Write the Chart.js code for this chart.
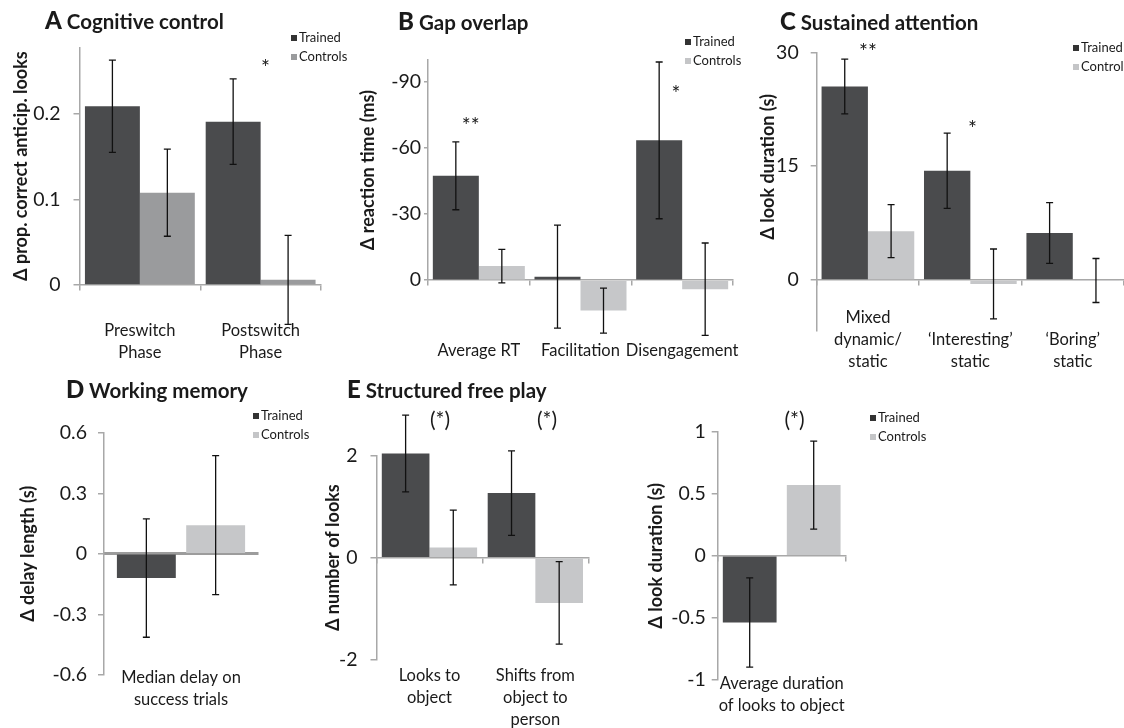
<!DOCTYPE html>
<html>
<head>
<meta charset="utf-8">
<script src="https://cdn.jsdelivr.net/npm/chart.js@4.4.0/dist/chart.umd.min.js"></script>
<style>
  body { margin: 0; background: #fff; }
  #fig { position: relative; width: 1124px; height: 728px; overflow: hidden; font-family: Lato, sans-serif; color: #1a1a1a; }
  #fig canvas { position: absolute; left: 0; top: 0; }
  .ttl { position: absolute; font-weight: 700; font-size: 20.5px; line-height: 26px; white-space: nowrap; }
  .ttl b { font-size: 24px; }
  .leg { position: absolute; font-size: 13px; line-height: 19px; white-space: nowrap; }
  .leg i { display: inline-block; width: 6px; height: 6px; margin-right: 2px; vertical-align: 1px; }
</style>
</head>
<body>
<div id="fig">
  <canvas id="pA" width="1124" height="728"></canvas>
  <canvas id="pB" width="1124" height="728"></canvas>
  <canvas id="pC" width="1124" height="728"></canvas>
  <canvas id="pD" width="1124" height="728"></canvas>
  <canvas id="pE" width="1124" height="728"></canvas>
  <canvas id="pF" width="1124" height="728"></canvas>

  <div class="ttl" style="left:45px;top:7px"><b>A</b> Cognitive control</div>
  <div class="ttl" style="left:398px;top:8px"><b>B</b> Gap overlap</div>
  <div class="ttl" style="left:780px;top:8px"><b>C</b> Sustained attention</div>
  <div class="ttl" style="left:66px;top:376px"><b>D</b> Working memory</div>
  <div class="ttl" style="left:347px;top:376px"><b>E</b> Structured free play</div>

  <div class="leg" style="left:291px;top:28px"><i style="background:#333"></i>Trained<br><i style="background:#9a9b9d"></i>Controls</div>
  <div class="leg" style="left:685px;top:32px"><i style="background:#333"></i>Trained<br><i style="background:#c4c5c7"></i>Controls</div>
  <div class="leg" style="left:1073px;top:38px"><i style="background:#333"></i>Trained<br><i style="background:#c4c5c7"></i>Controls</div>
  <div class="leg" style="left:253px;top:406px"><i style="background:#333"></i>Trained<br><i style="background:#c4c5c7"></i>Controls</div>
  <div class="leg" style="left:870px;top:408px"><i style="background:#333"></i>Trained<br><i style="background:#c4c5c7"></i>Controls</div>
</div>

<script>
// --- data ---
// A Cognitive control
const aLabels = [['Preswitch', 'Phase'], ['Postswitch', 'Phase']];
const aTrained = [0.209, 0.191];
const aTrainedErr = [0.054, 0.050];
const aControls = [0.108, 0.006];
const aControlsErr = [0.051, 0.052];
const aTicks = [0, 0.1, 0.2];
const aStars = [{ index: 1, dx: 0.04, value: 0.253, text: '*' }];

// B Gap overlap (axis reversed)
const bLabels = ['Average RT', 'Facilitation', 'Disengagement'];
const bTrained = [-47.4, -1.6, -63.5];
const bTrainedErr = [15.4, 23.4, 35.6];
const bControls = [-6.4, 13.8, 4.1];
const bControlsErr = [7.6, 10.2, 21.0];
const bTicks = [-90, -60, -30, 0];
const bStars = [
  { index: 0, dx: -0.08, value: -69.9, text: '**' },
  { index: 2, dx: -0.06, value: -84.4, text: '*' }
];

// C Sustained attention
const cLabels = [['Mixed', 'dynamic/', 'static'], ['\u2018Interesting\u2019', 'static'], ['\u2018Boring\u2019', 'static']];
const cTrained = [25.5, 14.4, 6.2];
const cTrainedErr = [3.6, 4.95, 4.0];
const cControls = [6.45, -0.5, -0.05];
const cControlsErr = [3.5, 4.6, 2.9];
const cTicks = [0, 15, 30];
const cStars = [
  { index: 0, dx: 0, value: 30.0, text: '**' },
  { index: 1, dx: 0.02, value: 19.9, text: '*' }
];

// D Working memory
const dLabels = [['Median delay on', 'success trials']];
const dTrained = [-0.12];
const dTrainedErr = [0.293];
const dControls = [0.142];
const dControlsErr = [0.344];
const dTicks = [-0.6, -0.3, 0, 0.3, 0.6];

// E Structured free play: number of looks
const eLabels = [['Looks to', 'object'], ['Shifts from', 'object to', 'person']];
const eTrained = [2.05, 1.27];
const eTrainedErr = [0.755, 0.83];
const eControls = [0.2, -0.89];
const eControlsErr = [0.735, 0.81];
const eTicks = [-2, 0, 2];
const eStars = [
  { index: 0, dx: 0.1, value: 2.70, text: '(*)' },
  { index: 1, dx: 0.11, value: 2.70, text: '(*)' }
];

// E Structured free play: look duration
const fLabels = [['Average duration', 'of looks to object']];
const fTrained = [-0.537];
const fTrainedErr = [0.36];
const fControls = [0.57];
const fControlsErr = [0.354];
const fTicks = [-1, -0.5, 0, 0.5, 1];
const fStars = [{ index: 0, dx: 0.1, value: 1.094, text: '(*)' }];

const PAGE_W = 1124, PAGE_H = 728;
const TRAINED = '#4a4b4d';
const CONTROLS = '#c6c7c9';
const AXIS = '#a8a8a8';
const INK = '#1a1a1a';
const Y_TITLE_SIZE = 18;

// error bars drawn from each dataset's errors array
const errorBars = {
  id: 'errorBars',
  afterDatasetsDraw(chart) {
    const { ctx } = chart;
    const y = chart.scales.y;
    ctx.save();
    ctx.strokeStyle = '#111';
    ctx.lineWidth = 1.3;
    chart.data.datasets.forEach((ds, di) => {
      chart.getDatasetMeta(di).data.forEach((bar, i) => {
        const top = y.getPixelForValue(ds.data[i] + ds.errors[i]);
        const bot = y.getPixelForValue(ds.data[i] - ds.errors[i]);
        ctx.beginPath();
        ctx.moveTo(bar.x, top); ctx.lineTo(bar.x, bot);
        ctx.moveTo(bar.x - 3.5, top); ctx.lineTo(bar.x + 3.5, top);
        ctx.moveTo(bar.x - 3.5, bot); ctx.lineTo(bar.x + 3.5, bot);
        ctx.stroke();
      });
    });
    ctx.restore();
  }
};

function starsPlugin(stars) {
  return {
    id: 'stars',
    afterDraw(chart) {
      const { ctx, scales: { x, y } } = chart;
      ctx.save();
      ctx.font = '21px Lato';
      ctx.fillStyle = INK;
      ctx.textAlign = 'center';
      ctx.textBaseline = 'middle';
      stars.forEach(s => ctx.fillText(s.text, x.getPixelForValue(s.index + s.dx), y.getPixelForValue(s.value)));
      ctx.restore();
    }
  };
}

function panel(id, o) {
  const padLeft = o.titleX - Y_TITLE_SIZE * 0.6;
  const ds = (label, data, errors, color) => ({
    label, data, errors,
    backgroundColor: color,
    borderWidth: 0,
    categoryPercentage: o.catPct,
    barPercentage: o.barPct,
    clip: false
  });

  return new Chart(document.getElementById(id), {
    type: 'bar',
    data: {
      labels: o.labels,
      datasets: [
        ds('Trained', o.trained, o.trainedErr, TRAINED),
        ds('Controls', o.controls, o.controlsErr, o.ctrlColor || CONTROLS)
      ]
    },
    options: {
      responsive: false,
      animation: false,
      devicePixelRatio: 1,
      events: [],
      layout: {
        padding: { left: padLeft, top: o.area.top, right: PAGE_W - o.area.right, bottom: PAGE_H - o.area.bottom }
      },
      plugins: { legend: { display: false }, tooltip: { enabled: false } },
      scales: {
        x: {
          position: { y: 0 },
          offset: true,
          // labels sit far below the zero line; keep them from widening the layout
          afterFit: s => { s.paddingLeft = 0; s.paddingRight = 0; },
          border: { color: o.zeroColor || AXIS, width: o.zeroWidth || 1.5 },
          grid: { offset: true, drawOnChartArea: false, drawTicks: true, tickLength: o.xTickLen, color: AXIS, lineWidth: 1.5 },
          ticks: {
            font: { family: 'Lato', size: 16.5, lineHeight: 1.333 },
            color: INK, padding: o.xPad, autoSkip: false, maxRotation: 0, minRotation: 0,
            crossAlign: o.cross || 'near'
          }
        },
        y: {
          min: o.min, max: o.max, reverse: !!o.reverse,
          afterFit: s => { s.width = o.area.left - padLeft; },
          afterBuildTicks: s => { s.ticks = o.ticks.map(v => ({ value: v })); },
          border: { color: AXIS, width: 1.5 },
          grid: { drawOnChartArea: false, drawTicks: true, tickLength: o.yTickLen, color: AXIS, lineWidth: 1.5 },
          ticks: { font: { family: 'Lato', size: 19.5 }, color: INK, padding: o.yPad, callback: v => String(v) },
          title: { display: true, text: o.yTitle, font: { family: 'Lato', size: Y_TITLE_SIZE, weight: 'bold' }, color: INK, padding: 0 }
        }
      }
    },
    plugins: [errorBars, starsPlugin(o.stars || [])]
  });
}

panel('pA', {
  labels: aLabels, trained: aTrained, trainedErr: aTrainedErr, controls: aControls, controlsErr: aControlsErr,
  ticks: aTicks, stars: aStars, ctrlColor: '#9a9b9d',
  min: 0, max: 0.278, area: { left: 79.5, top: 47.3, right: 321, bottom: 285 },
  titleX: 20.8, yTitle: '\u0394 prop. correct anticip. looks',
  catPct: 0.91, barPct: 1, xTickLen: 5, xPad: 30, yTickLen: 6, yPad: 13
});

panel('pB', {
  labels: bLabels, trained: bTrained, trainedErr: bTrainedErr, controls: bControls, controlsErr: bControlsErr,
  ticks: bTicks, stars: bStars, reverse: true,
  min: -100, max: 0, area: { left: 428, top: 60, right: 733, bottom: 280.2 },
  titleX: 368, yTitle: '\u0394 reaction time (ms)',
  catPct: 0.905, barPct: 1, xTickLen: 5, xPad: 54.5, yTickLen: 4, yPad: 3
});

// the title in C sits higher than the axis middle; leading em spaces lift it
panel('pC', {
  labels: cLabels, trained: cTrained, trainedErr: cTrainedErr, controls: cControls, controlsErr: cControlsErr,
  ticks: cTicks, stars: cStars,
  min: -6.7, max: 30, area: { left: 816.7, top: 52.3, right: 1124, bottom: 331 },
  titleX: 768, yTitle: '\u2003\u2003\u2003\u2002\u0394 look duration (s)',
  catPct: 0.905, barPct: 1, xTickLen: 5, xPad: 32.7, yTickLen: 6, yPad: 12, cross: 'far'
});

panel('pD', {
  labels: dLabels, trained: dTrained, trainedErr: dTrainedErr, controls: dControls, controlsErr: dControlsErr,
  ticks: dTicks,
  min: -0.6, max: 0.6, area: { left: 104, top: 432.7, right: 258, bottom: 675 },
  titleX: 28, yTitle: '\u0394 delay length (s)',
  catPct: 0.9, barPct: 0.85, xTickLen: 0, xPad: 113.3, yTickLen: 6, yPad: 11,
  zeroColor: '#9c9c9c', zeroWidth: 3
});

panel('pE', {
  labels: eLabels, trained: eTrained, trainedErr: eTrainedErr, controls: eControls, controlsErr: eControlsErr,
  ticks: eTicks, stars: eStars,
  min: -2, max: 2, area: { left: 376.5, top: 456, right: 588.3, bottom: 659.3 },
  titleX: 333.5, yTitle: '\u0394 number of looks',
  catPct: 0.9, barPct: 1, xTickLen: 5, xPad: 102, yTickLen: 6, yPad: 13
});

panel('pF', {
  labels: fLabels, trained: fTrained, trainedErr: fTrainedErr, controls: fControls, controlsErr: fControlsErr,
  ticks: fTicks, stars: fStars,
  min: -1, max: 1, area: { left: 717.7, top: 431.7, right: 845.7, bottom: 680 },
  titleX: 656.5, yTitle: '\u0394 look duration (s)',
  catPct: 1, barPct: 0.84, xTickLen: 5, xPad: 111.6, yTickLen: 6, yPad: 6
});
</script>
</body>
</html>
